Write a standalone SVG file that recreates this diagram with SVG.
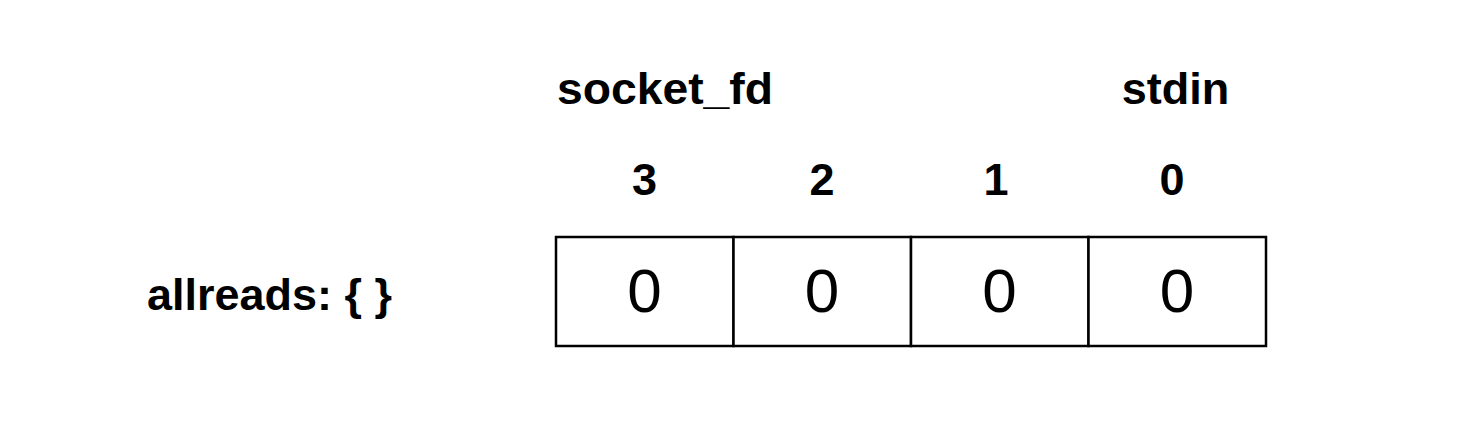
<svg xmlns="http://www.w3.org/2000/svg" width="1482" height="433" viewBox="0 0 1482 433">
<style>
.lbl{font-family:"Liberation Sans",Arial,Helvetica,sans-serif;font-weight:bold;font-size:45px;fill:#000}
.val{font-family:"Liberation Sans",Arial,Helvetica,sans-serif;font-size:62px;fill:#000;text-anchor:middle}
.cell{fill:#fff;stroke:#000;stroke-width:2.5}
</style>
<rect width="1482" height="433" fill="#fff"/>
<g id="label-allreads"><text class="lbl" x="147" y="310" textLength="245" lengthAdjust="spacingAndGlyphs">allreads: { }</text></g>
<g id="label-socket_fd"><text class="lbl" x="557" y="104" textLength="216" lengthAdjust="spacingAndGlyphs">socket_fd</text></g>
<g id="label-stdin"><text class="lbl" x="1175.5" y="104" text-anchor="middle">stdin</text></g>
<g id="index-labels">
<text class="lbl" x="644.5" y="195" text-anchor="middle">3</text>
<text class="lbl" x="822" y="195" text-anchor="middle">2</text>
<text class="lbl" x="996" y="195" text-anchor="middle">1</text>
<text class="lbl" x="1172" y="195" text-anchor="middle">0</text>
</g>
<g id="cell-3"><rect class="cell" x="556" y="237" width="177.5" height="109"/><text class="val" x="644.5" y="312">0</text></g>
<g id="cell-2"><rect class="cell" x="733.5" y="237" width="177.5" height="109"/><text class="val" x="822" y="312">0</text></g>
<g id="cell-1"><rect class="cell" x="911" y="237" width="177.5" height="109"/><text class="val" x="999.5" y="312">0</text></g>
<g id="cell-0"><rect class="cell" x="1088.5" y="237" width="177.5" height="109"/><text class="val" x="1177" y="312">0</text></g>
<g id="connectors"></g>
</svg>
